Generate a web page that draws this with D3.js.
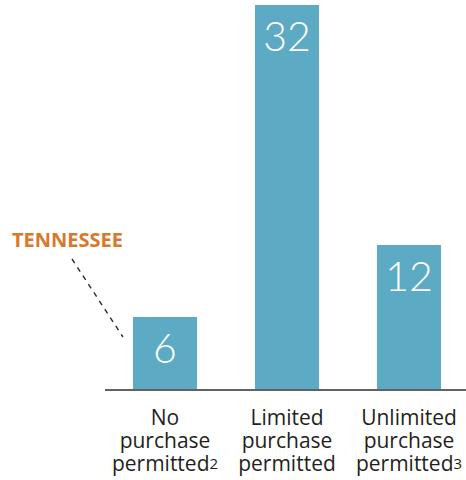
<!DOCTYPE html>
<html><head><meta charset="utf-8">
<script src="https://cdn.jsdelivr.net/npm/d3@7"></script>
<style>
html,body{margin:0;padding:0;background:#fff;}
svg{display:block;}
</style></head>
<body>
<svg id="chart" width="466" height="480"></svg>
<script>
const categories = ["no", "limited", "unlimited"];
const labelLines = [["No", "purchase", "permitted"], ["Limited", "purchase", "permitted"], ["Unlimited", "purchase", "permitted"]];
const footnotes = ["2", "", "3"];
const values = [6, 32, 12];
const highlightLabel = "TENNESSEE";

const svg = d3.select("#chart");
const baseY = 389;
const x = d3.scaleBand().domain(categories).range([104, 470]).paddingInner(0.475).paddingOuter(0.2375);
const y = d3.scaleLinear().domain([0, 32]).range([baseY, 5]);

svg.selectAll("rect.bar").data(values).join("rect")
  .attr("class", "bar")
  .attr("x", (d, i) => x(categories[i]))
  .attr("y", d => y(d))
  .attr("width", x.bandwidth())
  .attr("height", d => baseY - y(d))
  .attr("fill", "#5caac3");

svg.append("line")
  .attr("x1", 105).attr("x2", 466)
  .attr("y1", baseY + 1).attr("y2", baseY + 1)
  .attr("stroke", "#626262").attr("stroke-width", 2);

svg.selectAll("text.val").data(values).join("text")
  .attr("class", "val")
  .attr("x", (d, i) => x(categories[i]) + x.bandwidth() / 2)
  .attr("y", d => y(d) + 46)
  .attr("text-anchor", "middle")
  .attr("fill", "#fff")
  .style("font-family", "Lato, 'Open Sans', sans-serif")
  .style("font-weight", 300)
  .style("font-size", "41px")
  .text(d => d);

categories.forEach((c, i) => {
  const cx = x(c) + x.bandwidth() / 2;
  const t = svg.append("text")
    .attr("text-anchor", "middle")
    .attr("fill", "#231f20")
    .style("font-family", "'Open Sans', sans-serif")
    .style("font-size", "21px");
  labelLines[i].forEach((ln, j) => {
    t.append("tspan").attr("x", cx).attr("y", 425 + j * 23).text(ln);
    if (j === labelLines[i].length - 1 && footnotes[i]) {
      t.append("tspan").attr("dy", -2).style("font-size", "15px").text(footnotes[i]);
    }
  });
});

// annotation
const bx = x(categories[0]);
const by = y(values[0]);
svg.append("text")
  .attr("x", 12).attr("y", 247)
  .attr("fill", "#d9782b")
  .style("font-family", "'Open Sans', sans-serif")
  .style("font-weight", 700)
  .style("font-size", "20px")
  .text(highlightLabel);
svg.append("line")
  .attr("x1", bx - 61).attr("y1", by - 58)
  .attr("x2", bx - 10).attr("y2", by + 20)
  .attr("stroke", "#2a2a2a").attr("stroke-width", 1.4)
  .attr("stroke-dasharray", "5,5");
</script>
</body></html>
